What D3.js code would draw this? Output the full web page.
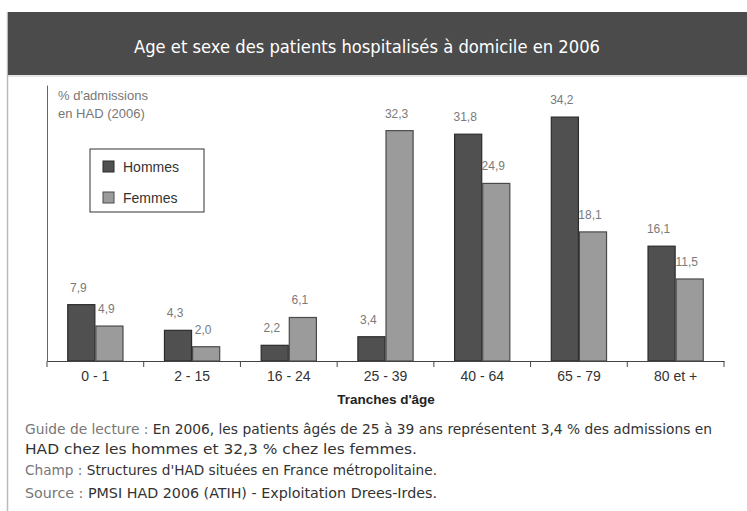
<!DOCTYPE html>
<html>
<head>
<meta charset="utf-8">
<script src="https://cdn.jsdelivr.net/npm/d3@7"></script>
<style>
  body { margin: 0; background: #fff; }
  svg { display: block; }
</style>
</head>
<body>
<svg width="747" height="511"></svg>
<script>
var categories = ["0 - 1", "2 - 15", "16 - 24", "25 - 39", "40 - 64", "65 - 79", "80 et +"];
var hommes = [7.9, 4.3, 2.2, 3.4, 31.8, 34.2, 16.1];
var femmes = [4.9, 2.0, 6.1, 32.3, 24.9, 18.1, 11.5];
var seriesNames = ["Hommes", "Femmes"];
var seriesColors = ["#505050", "#9b9b9b"];
var strokeColors = ["#2b2b2b", "#4a4a4a"];

var svg = d3.select("svg");

// frame + title bar
svg.append("line")
    .attr("x1", 7.5).attr("x2", 7.5).attr("y1", 12).attr("y2", 511)
    .attr("stroke", "#bbb").attr("stroke-width", 1.5);
svg.append("rect")
    .attr("x", 8).attr("y", 12).attr("width", 739).attr("height", 63)
    .attr("fill", "#4b4b4b");
svg.append("line")
    .attr("x1", 8).attr("x2", 747).attr("y1", 76).attr("y2", 76)
    .attr("stroke", "#ccc");
svg.append("text")
    .attr("x", 367).attr("y", 53)
    .attr("text-anchor", "middle")
    .attr("fill", "#fff")
    .attr("font-family", "'DejaVu Sans Condensed', 'DejaVu Sans'")
    .attr("font-size", 17)
    .attr("textLength", 466).attr("lengthAdjust", "spacingAndGlyphs")
    .text("Age et sexe des patients hospitalisés à domicile en 2006");

var x0 = d3.scaleBand().domain(categories).range([47, 724]).paddingInner(0).paddingOuter(0);
var x1 = d3.scaleBand().domain(seriesNames).range([0, x0.bandwidth()]).paddingInner(0).paddingOuter(0.72);
var y = d3.scaleLinear().domain([0, 38.7]).range([361, 85]);

var rows = categories.map((c, i) => ({cat: c, vals: [hommes[i], femmes[i]]}));

var groups = svg.append("g").selectAll("g")
    .data(rows).enter().append("g")
    .attr("transform", d => "translate(" + x0(d.cat) + ",0)");

groups.selectAll("rect")
    .data(d => d.vals.map((v, j) => ({v: v, s: seriesNames[j], j: j})))
    .enter().append("rect")
    .attr("x", d => x1(d.s) + 0.5)
    .attr("y", d => y(d.v))
    .attr("width", x1.bandwidth() - 1)
    .attr("height", d => y(0) - y(d.v))
    .attr("fill", d => seriesColors[d.j])
    .attr("stroke", d => strokeColors[d.j])
    .attr("stroke-width", 1.2);

groups.selectAll("text.val")
    .data(d => d.vals.map((v, j) => ({v: v, s: seriesNames[j], j: j})))
    .enter().append("text")
    .attr("class", "val")
    .attr("x", d => x1(d.s) + x1.bandwidth() / 2 - 3)
    .attr("y", d => y(d.v) - 13)
    .attr("text-anchor", "middle")
    .attr("fill", "#7a7a7a")
    .attr("font-family", "'Liberation Sans', Arial, sans-serif")
    .attr("font-size", 12)
    .text(d => d3.format(".1f")(d.v).replace(".", ","));

// axes
var xAxis = svg.append("g")
    .attr("transform", "translate(0,361)")
    .call(d3.axisBottom(x0).tickSize(0).tickPadding(10));
xAxis.select(".domain").attr("stroke", "#444").attr("stroke-width", 1.2);
xAxis.selectAll("text")
    .attr("fill", "#333")
    .attr("font-family", "'Liberation Sans', Arial, sans-serif")
    .attr("font-size", 14);
// boundary ticks between bands
xAxis.selectAll("line.sep")
    .data(categories.map(c => x0(c)).concat([x0.range()[1]]))
    .enter().append("line")
    .attr("class", "sep")
    .attr("x1", d => d).attr("x2", d => d)
    .attr("y1", 0).attr("y2", 6)
    .attr("stroke", "#444");

var yAxis = svg.append("g")
    .attr("transform", "translate(47,0)")
    .call(d3.axisLeft(y).tickValues([]).tickSizeOuter(0));
yAxis.select(".domain").attr("stroke", "#666");

var yTitle = svg.append("text")
    .attr("fill", "#777")
    .attr("font-family", "'Liberation Sans', Arial, sans-serif")
    .attr("font-size", 13);
yTitle.append("tspan").attr("x", 58).attr("y", 100).text("% d'admissions");
yTitle.append("tspan").attr("x", 58).attr("y", 118).text("en HAD (2006)");

svg.append("text")
    .attr("x", 386).attr("y", 404)
    .attr("text-anchor", "middle")
    .attr("fill", "#222")
    .attr("font-weight", "bold")
    .attr("font-family", "'Liberation Sans', Arial, sans-serif")
    .attr("font-size", 13.5)
    .text("Tranches d'âge");

// legend
var legend = svg.append("g").attr("transform", "translate(90,149)");
legend.append("rect")
    .attr("width", 114).attr("height", 63)
    .attr("fill", "#fff").attr("stroke", "#333").attr("stroke-width", 1);
seriesNames.forEach(function(s, j) {
    legend.append("rect")
        .attr("x", 13).attr("y", 12 + j * 31)
        .attr("width", 11).attr("height", 11)
        .attr("fill", seriesColors[j]).attr("stroke", strokeColors[j]);
    legend.append("text")
        .attr("x", 33).attr("y", 23 + j * 31)
        .attr("fill", "#333")
        .attr("font-family", "'Liberation Sans', Arial, sans-serif")
        .attr("font-size", 14)
        .text(s);
});

// notes
var notes = [
    ["Guide de lecture : ", "En 2006, les patients âgés de 25 à 39 ans représentent 3,4 % des admissions en", 687, 434],
    ["", "HAD chez les hommes et 32,3 % chez les femmes.", 392, 454],
    ["Champ : ", "Structures d'HAD situées en France métropolitaine.", 412, 475],
    ["Source : ", "PMSI HAD 2006 (ATIH) - Exploitation Drees-Irdes.", 412, 498]
];
notes.forEach(function(n) {
    var t = svg.append("text")
        .attr("x", 25).attr("y", n[3])
        .attr("font-family", "'DejaVu Sans Condensed', 'DejaVu Sans'")
        .attr("font-size", 13.5)
        .attr("textLength", n[2]).attr("lengthAdjust", "spacingAndGlyphs");
    if (n[0]) t.append("tspan").attr("fill", "#777").text(n[0]);
    t.append("tspan").attr("fill", "#333").text(n[1]);
});
</script>
</body>
</html>
